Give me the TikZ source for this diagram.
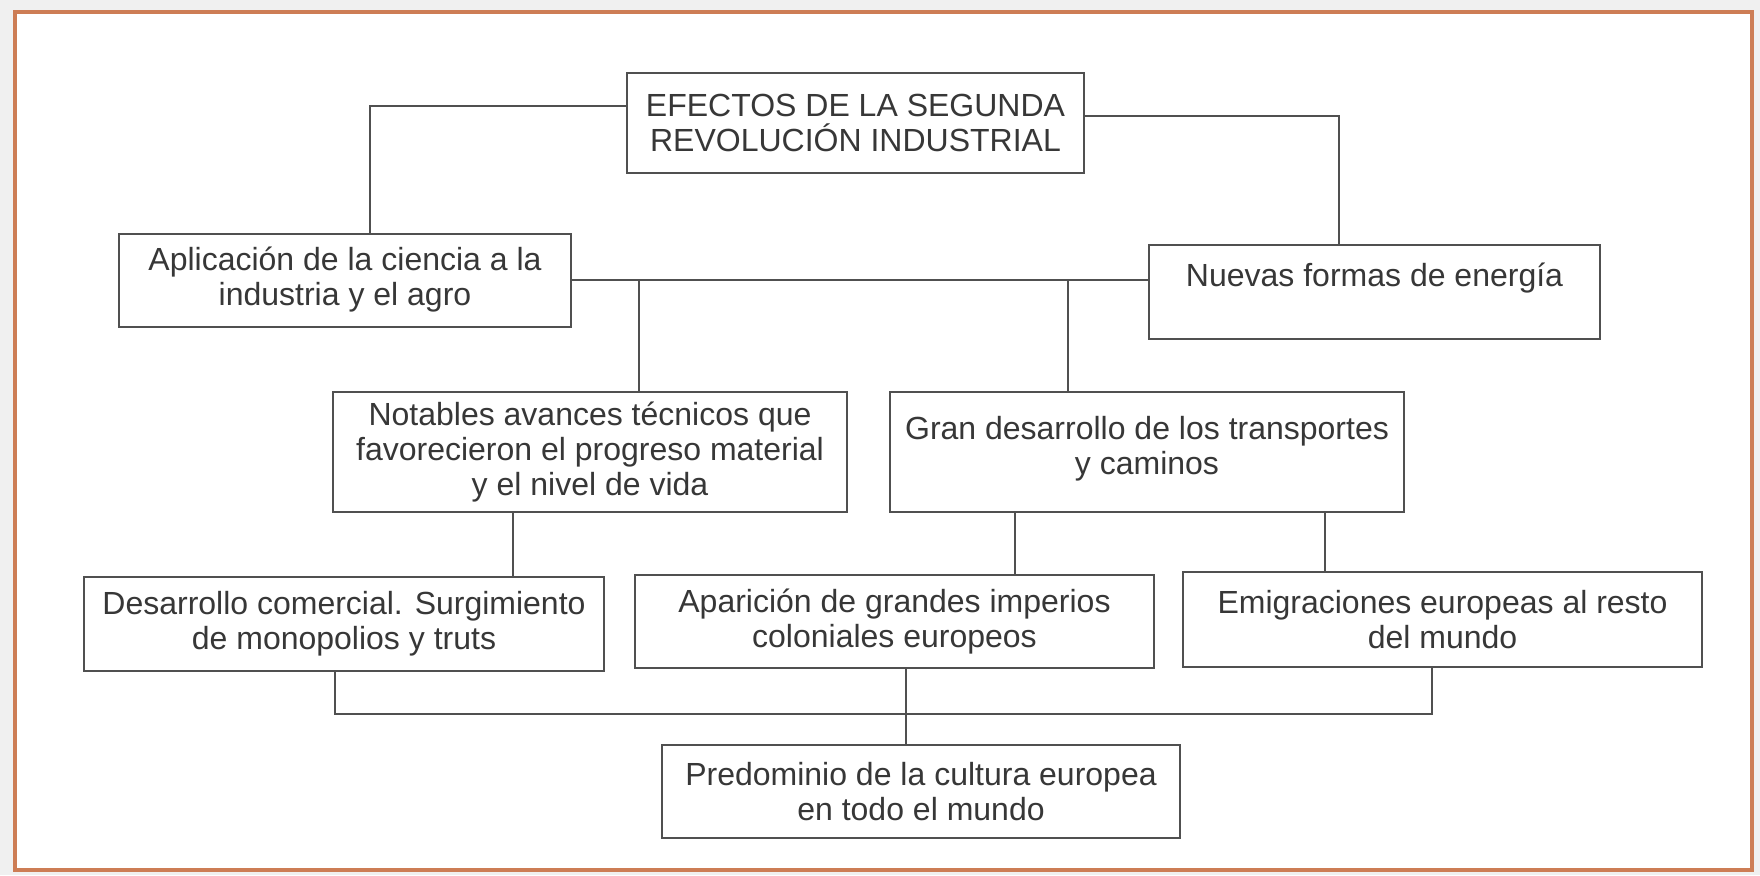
\documentclass[tikz,border=0pt]{standalone}
\usepackage{fontspec}
\setmainfont{Liberation Sans}

\definecolor{linea}{RGB}{80,80,80}
\definecolor{texto}{RGB}{55,55,55}
\definecolor{marco}{RGB}{205,125,85}

\tikzset{
  caja/.style={draw=linea, line width=1pt, text=texto, align=center,
    inner sep=0pt, font=\fontsize{16}{17.5}\selectfont},
  enlace/.style={draw=linea, line width=1pt},
}

\begin{document}
\begin{tikzpicture}[x=0.5pt, y=-0.5pt]
  %================= Fondo y marco =================
  \useasboundingbox (0,0) rectangle (1760,875);
  \fill[gray!12] (0,0) rectangle (1760,875);
  \draw[marco, line width=2pt, fill=white] (15,12) rectangle (1752,870);

  %================= Cajas =================
  \node[caja, minimum width=228.5pt, minimum height=50pt] (titulo) at (855.5,122.5)
    {EFECTOS DE LA SEGUNDA\\REVOLUCIÓN INDUSTRIAL};
  \node[caja, minimum width=226pt, minimum height=46.5pt] (ciencia) at (345,280)
    {Aplicación de la ciencia a la\\industria y el agro};
  \node[caja, minimum width=225.5pt, minimum height=47pt] (energia) at (1374.5,292)
    {Nuevas formas de energía\\\mbox{}};
  \node[caja, minimum width=257pt, minimum height=60pt] (avances) at (590,452)
    {Notables avances técnicos que\\favorecieron el progreso material\\y el nivel de vida};
  \node[caja, minimum width=257pt, minimum height=60pt] (transportes) at (1147,452)
    {Gran desarrollo de los transportes\\y caminos\\[-10.5pt]\mbox{}};
  \node[caja, minimum width=260pt, minimum height=47pt] (comercio) at (344,624)
    {Desarrollo comercial. Surgimiento\\de monopolios y truts};
  \node[caja, minimum width=259.5pt, minimum height=46.5pt] (imperios) at (894.5,621.5)
    {Aparición de grandes imperios\\coloniales europeos};
  \node[caja, minimum width=259.5pt, minimum height=47.5pt] (emigracion) at (1442.5,619.5)
    {Emigraciones europeas al resto\\del mundo};
  \node[caja, minimum width=259pt, minimum height=46.5pt] (cultura) at (921,791.5)
    {Predominio de la cultura europea\\en todo el mundo};

  %================= Enlaces superiores =================
  \draw[enlace] ([yshift=8.25pt]titulo.west) -| ([xshift=12.5pt]ciencia.north);
  \draw[enlace] ([yshift=3.25pt]titulo.east) -| ([xshift=-17.75pt]energia.north);
  \draw[enlace] (ciencia.east) -- (ciencia.east -| energia.west);
  \draw[enlace] ([xshift=24.5pt]avances.north) -- ([xshift=24.5pt]avances.north |- ciencia.east);
  \draw[enlace] ([xshift=-39.5pt]transportes.north) -- ([xshift=-39.5pt]transportes.north |- ciencia.east);

  %================= Enlaces inferiores =================
  \draw[enlace] ([xshift=-38.5pt]avances.south) -- ([xshift=-38.5pt]avances.south |- comercio.north);
  \draw[enlace] ([xshift=-66pt]transportes.south) -- ([xshift=-66pt]transportes.south |- imperios.north);
  \draw[enlace] ([xshift=89pt]transportes.south) -- ([xshift=89pt]transportes.south |- emigracion.north);

  % barra comun hacia la cultura europea
  \coordinate (barra) at (0,714);
  \coordinate (barraA) at ([xshift=-4.5pt]comercio.south);
  \coordinate (barraB) at ([xshift=-5.25pt]emigracion.south);
  \draw[enlace] (barraA) -- (barraA |- barra) -- (barraB |- barra) -- (barraB);
  \draw[enlace] ([xshift=5.75pt]imperios.south) -- ([xshift=5.75pt]imperios.south |- cultura.north);

\end{tikzpicture}
\end{document}
